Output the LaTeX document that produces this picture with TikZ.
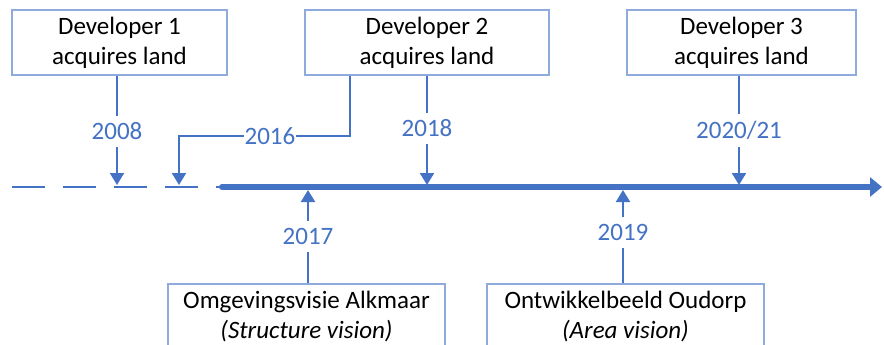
\documentclass[tikz,border=0pt]{standalone}
\usepackage{fontspec}
\setmainfont{Carlito}
\usetikzlibrary{arrows.meta}
\definecolor{lineblue}{RGB}{68,114,196}
\definecolor{boxblue}{RGB}{143,170,220}
\begin{document}
\begin{tikzpicture}[x=1pt,y=-1pt,
  event/.style={draw=boxblue, line width=1.3pt, align=center,
    font=\fontsize{25}{30}\selectfont, text=black, inner sep=0pt},
  year/.style={fill=white, text=lineblue, font=\fontsize{25}{30}\selectfont,
    inner xsep=0.5pt, inner ysep=7pt},
  conn/.style={draw=lineblue, line width=2pt, -{Triangle[width=14pt,length=12pt]}},
]
\useasboundingbox (0,0) rectangle (884,345);
\clip (0,0) rectangle (884,345);

% events above the timeline
\node[event, minimum width=215pt, minimum height=65pt] (d1) at (119.5,42.5) {Developer 1\\acquires land};
\node[event, minimum width=244pt, minimum height=65pt] (d2) at (427,42.5) {Developer 2\\acquires land};
\node[event, minimum width=229pt, minimum height=65pt] (d3) at (741.5,42.5) {Developer 3\\acquires land};

% policy documents below the timeline
\node[event, minimum width=277pt, minimum height=66pt] (p1) at (306.5,317) {Omgevingsvisie Alkmaar\\\textit{(Structure vision)}};
\node[event, minimum width=277pt, minimum height=66pt] (p2) at (625.5,317) {Ontwikkelbeeld Oudorp\\\textit{(Area vision)}};

% timeline
\coordinate (tlStart) at (12,187);
\coordinate (tlMid) at (222,187);
\coordinate (tlEnd) at (882,187);
\draw[lineblue, line width=2pt, dash pattern=on 33pt off 18pt] (tlStart) -- (tlMid);
\draw[lineblue, line width=6pt, line cap=round, -{Triangle[width=19pt,length=12pt]}] (tlMid) -- (tlEnd);

% points on the timeline
\coordinate (t08) at (117,185);
\coordinate (t16) at (179,185);
\coordinate (b16) at (350,136);
\coordinate (t18) at (427,185);
\coordinate (t20) at (739,185);
\coordinate (t17) at (308,190);
\coordinate (t19) at (623,190);

% connectors
\draw[conn] (d1.south -| t08) -- node[year, pos=0.509] {2008} (t08);
\draw[conn] (d2.south -| b16) -- (b16) -- node[year, pos=0.468] {2016} (b16 -| t16) -- (t16);
\draw[conn] (d2.south -| t18) -- node[year, pos=0.482] {2018} (t18);
\draw[conn] (d3.south -| t20) -- node[year, pos=0.5] {2020/21} (t20);
\draw[conn] (p1.north -| t17) -- node[year, pos=0.5] {2017} (t17);
\draw[conn] (p2.north -| t19) -- node[year, pos=0.543] {2019} (t19);
\end{tikzpicture}
\end{document}
